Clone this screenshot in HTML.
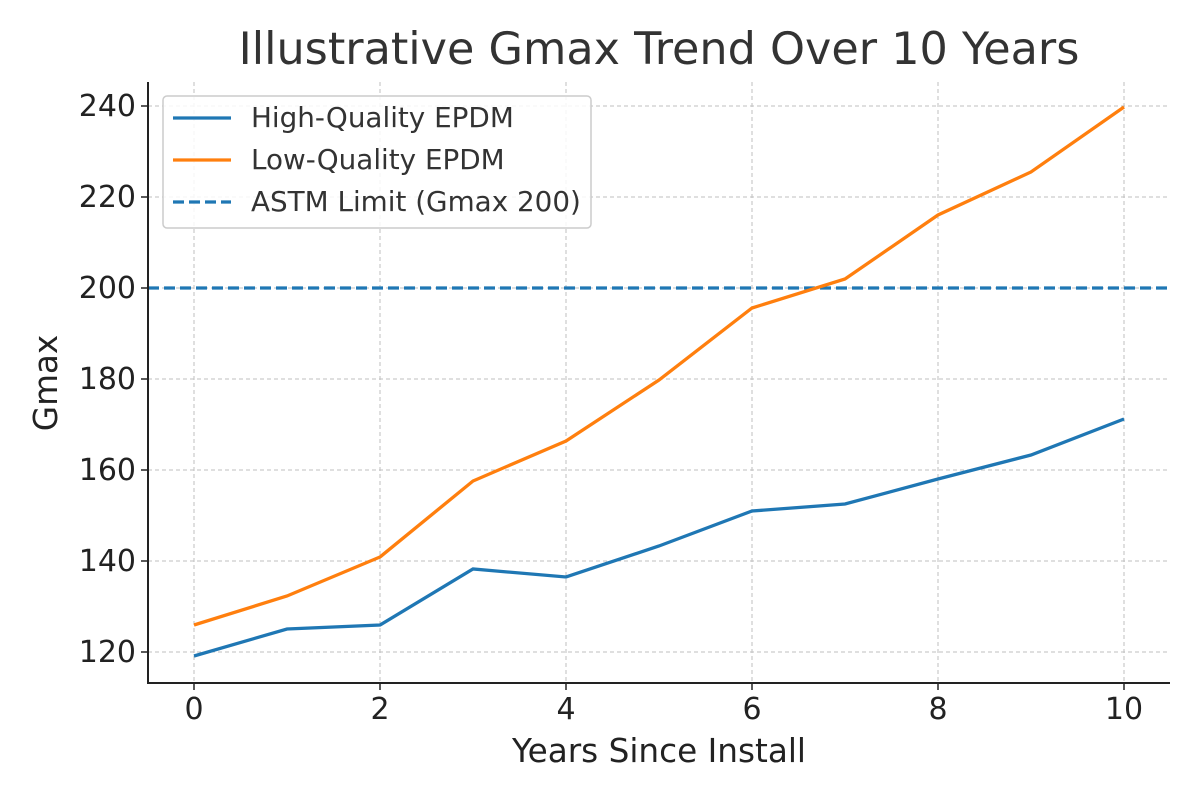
<!DOCTYPE html>
<html><head><meta charset="utf-8"><style>body{margin:0;background:#fff}svg{display:block}</style></head>
<body>
<svg width="1200" height="800" xmlns="http://www.w3.org/2000/svg" font-family="DejaVu Sans, Liberation Sans, sans-serif">
<rect width="1200" height="800" fill="#fff"/>
<g stroke="#b0b0b0" stroke-width="1" stroke-dasharray="4,3" opacity="0.8">
<line x1="194" y1="82" x2="194" y2="683"/><line x1="380" y1="82" x2="380" y2="683"/><line x1="566" y1="82" x2="566" y2="683"/><line x1="752" y1="82" x2="752" y2="683"/><line x1="938" y1="82" x2="938" y2="683"/><line x1="1124" y1="82" x2="1124" y2="683"/>
<line x1="148" y1="652" x2="1170" y2="652"/><line x1="148" y1="561" x2="1170" y2="561"/><line x1="148" y1="470" x2="1170" y2="470"/><line x1="148" y1="379" x2="1170" y2="379"/><line x1="148" y1="288" x2="1170" y2="288"/><line x1="148" y1="197" x2="1170" y2="197"/><line x1="148" y1="106" x2="1170" y2="106"/>
</g>
<line x1="148" y1="288" x2="1170" y2="288" stroke="#1f77b4" stroke-width="3.3" stroke-dasharray="11,5"/>
<polyline fill="none" stroke="#1f77b4" stroke-width="3.3" points="194,656 287,629 380,625 473,569 566,577 659,546 752,511 845,504 938,479 1031,455 1124,419"/>
<polyline fill="none" stroke="#ff7f0e" stroke-width="3.3" points="194,625 287,596 380,557 473,481 566,441 659,380 752,308 845,279 938,215 1031,172 1124,107"/>
<g stroke="#222" stroke-width="2"><line x1="148" y1="82" x2="148" y2="684"/><line x1="147" y1="683" x2="1170" y2="683"/></g>
<g stroke="#222" stroke-width="1.5">
<line x1="194" y1="683" x2="194" y2="690"/><line x1="380" y1="683" x2="380" y2="690"/><line x1="566" y1="683" x2="566" y2="690"/><line x1="752" y1="683" x2="752" y2="690"/><line x1="938" y1="683" x2="938" y2="690"/><line x1="1124" y1="683" x2="1124" y2="690"/>
<line x1="141" y1="652" x2="148" y2="652"/><line x1="141" y1="561" x2="148" y2="561"/><line x1="141" y1="470" x2="148" y2="470"/><line x1="141" y1="379" x2="148" y2="379"/><line x1="141" y1="288" x2="148" y2="288"/><line x1="141" y1="197" x2="148" y2="197"/><line x1="141" y1="106" x2="148" y2="106"/>
</g>
<g font-size="30" fill="#222" text-anchor="middle">
<text x="194" y="719">0</text><text x="380" y="719">2</text><text x="566" y="719">4</text><text x="752" y="719">6</text><text x="938" y="719">8</text><text x="1124" y="719">10</text>
</g>
<g font-size="30" fill="#222" text-anchor="end">
<text x="136" y="662">120</text><text x="136" y="571">140</text><text x="136" y="480">160</text><text x="136" y="389">180</text><text x="136" y="298">200</text><text x="136" y="207">220</text><text x="136" y="116">240</text>
</g>
<text x="659" y="762" font-size="32.7" fill="#222" text-anchor="middle">Years Since Install</text>
<text transform="translate(57,383) rotate(-90)" font-size="32.7" fill="#222" text-anchor="middle">Gmax</text>
<text x="659" y="64" font-size="44.5" fill="#333" text-anchor="middle">Illustrative Gmax Trend Over 10 Years</text>
<rect x="163" y="96" width="428" height="132" rx="4" fill="#fff" fill-opacity="0.85" stroke="#ccc" stroke-width="1.5"/>
<line x1="173" y1="118" x2="231" y2="118" stroke="#1f77b4" stroke-width="3.3"/>
<line x1="173" y1="160" x2="231" y2="160" stroke="#ff7f0e" stroke-width="3.3"/>
<line x1="173" y1="202" x2="231" y2="202" stroke="#1f77b4" stroke-width="3.3" stroke-dasharray="11,5"/>
<g font-size="27.8" fill="#333">
<text x="251" y="127">High-Quality EPDM</text><text x="251" y="169">Low-Quality EPDM</text><text x="251" y="211">ASTM Limit (Gmax 200)</text>
</g>
</svg>
</body></html>
